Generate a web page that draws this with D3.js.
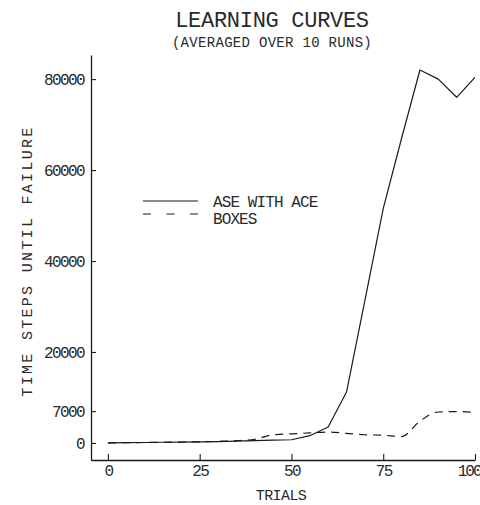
<!DOCTYPE html>
<html>
<head>
<meta charset="utf-8">
<script src="https://cdn.jsdelivr.net/npm/d3@7"></script>
<style>
  html, body { margin: 0; padding: 0; background: #fff; }
  svg { display: block; }
  text { font-family: "Liberation Mono", "DejaVu Sans Mono", monospace; fill: #2a2a2a; }
</style>
</head>
<body>
<svg id="chart" width="480" height="505"></svg>
<script>
// ---- data ----
const trials = [0, 5, 10, 15, 20, 25, 30, 35, 40, 45, 50, 55, 60, 65, 70, 75, 80, 85, 90, 95, 100];
const aseWithAce = [0, 50, 100, 150, 200, 250, 300, 400, 500, 600, 700, 1600, 3500, 11200, 31300, 51500, 67000, 82000, 80000, 76000, 80400];
const boxes = [0, 50, 100, 150, 200, 250, 350, 500, 800, 1800, 2000, 2200, 2400, 2100, 1800, 1700, 1400, 4800, 6800, 6900, 6700];
const xTicks = [0, 25, 50, 75, 100];
const yTicks = [0, 7000, 20000, 40000, 60000, 80000];
const seriesNames = ["ASE WITH ACE", "BOXES"];
const titleText = "LEARNING CURVES";
const subtitleText = "(AVERAGED OVER 10 RUNS)";
const xLabel = "TRIALS";
const yLabel = "TIME STEPS UNTIL FAILURE";

const svg = d3.select("#chart");
const ink = "#1a1a1a";

const x = d3.scaleLinear().domain([-4.6, 100]).range([91, 475]);
const y = d3.scaleLinear().domain([-3750, 85300]).range([460, 55]);

// axes
const yAxis = d3.axisLeft(y).tickValues(yTicks).tickFormat(d3.format("d"))
  .tickSizeInner(-5).tickSizeOuter(0).tickPadding(7);
const gy = svg.append("g").attr("transform", "translate(91,0)").call(yAxis);

const xAxis = d3.axisBottom(x).tickValues(xTicks).tickFormat(d3.format("d"))
  .tickSizeInner(-6).tickSizeOuter(0).tickPadding(6);
const gx = svg.append("g").attr("transform", "translate(0,460)").call(xAxis);

[gx, gy].forEach(g => {
  g.select(".domain").attr("stroke", ink).attr("stroke-width", 1.3);
  g.selectAll(".tick line").attr("stroke", ink).attr("stroke-width", 1.1);
  g.selectAll(".tick text")
    .style("font-family", '"Liberation Mono", monospace')
    .style("font-size", "16px")
    .style("letter-spacing", "-1.6px")
    .attr("fill", "#2a2a2a");
});
gx.selectAll(".tick text").attr("dy", "0.6em");
gy.selectAll(".tick text").attr("dy", "0.36em");
// keep the last label inside the page edge
gx.selectAll(".tick text").filter(d => d === 100)
  .attr("text-anchor", "end").attr("dx", 5).style("letter-spacing", "-2px");

// lines
const line = d3.line().x((d, i) => x(trials[i])).y(d => y(d));

svg.append("path").datum(aseWithAce)
  .attr("d", line).attr("fill", "none")
  .attr("stroke", ink).attr("stroke-width", 1.2).attr("stroke-linejoin", "round");

svg.append("path").datum(boxes)
  .attr("d", line.curve(d3.curveMonotoneX)).attr("fill", "none")
  .attr("stroke", ink).attr("stroke-width", 1.2).attr("stroke-dasharray", "8,6");

// title
svg.append("text").attr("x", 272).attr("y", 27).attr("text-anchor", "middle")
  .style("font-size", "22px").style("letter-spacing", "-0.3px").text(titleText);
svg.append("text").attr("x", 272).attr("y", 47).attr("text-anchor", "middle")
  .style("font-size", "14px").style("letter-spacing", "0.3px").text(subtitleText);

// axis titles
svg.append("text").attr("x", 281).attr("y", 500).attr("text-anchor", "middle")
  .style("font-size", "15px").style("letter-spacing", "-0.6px").text(xLabel);
svg.append("text").attr("transform", "translate(32,261) rotate(-90)").attr("text-anchor", "middle")
  .style("font-size", "15px").style("letter-spacing", "2.3px").text(yLabel);

// legend
const legend = svg.append("g");
const legY = [201, 214];
const legTextY = [207, 224];
legend.append("line").attr("x1", 143).attr("x2", 198).attr("y1", legY[0]).attr("y2", legY[0])
  .attr("stroke", ink).attr("stroke-width", 1.1);
legend.append("line").attr("x1", 143).attr("x2", 198).attr("y1", legY[1]).attr("y2", legY[1])
  .attr("stroke", ink).attr("stroke-width", 1.1).attr("stroke-dasharray", "8,15.5");
seriesNames.forEach((n, i) => {
  legend.append("text").attr("x", 213).attr("y", legTextY[i])
    .style("font-size", "16px").style("letter-spacing", "-0.9px").text(n);
});
</script>
</body>
</html>
